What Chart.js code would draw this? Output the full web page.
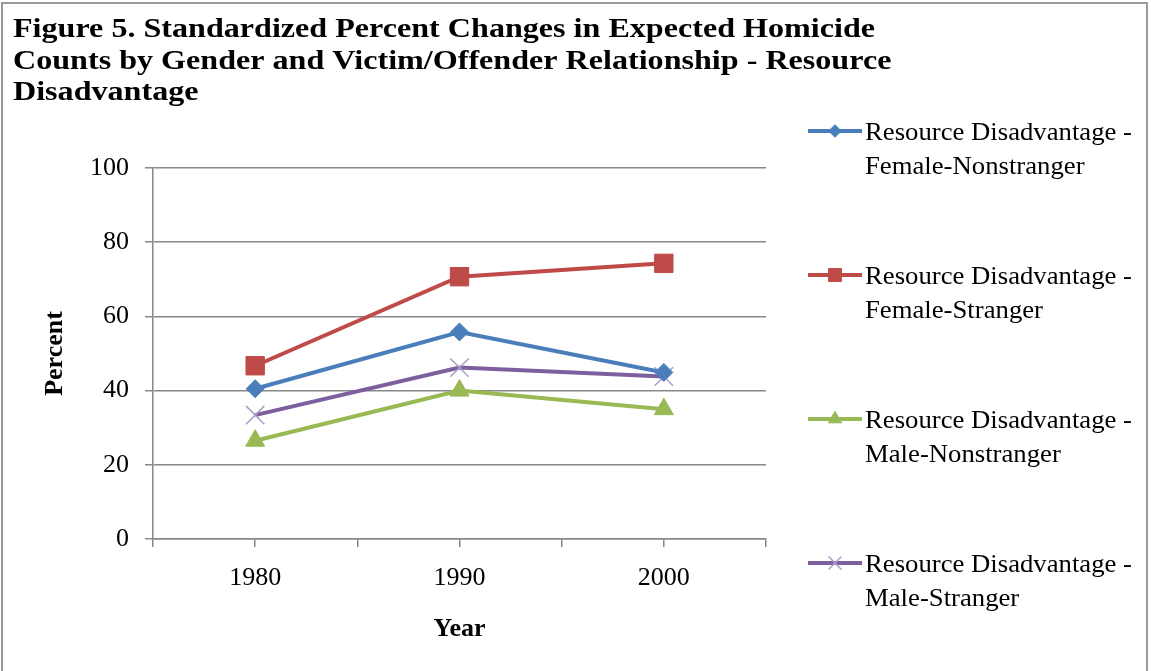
<!DOCTYPE html>
<html>
<head>
<meta charset="utf-8">
<script src="https://cdn.jsdelivr.net/npm/chart.js@4.4.0/dist/chart.umd.min.js"></script>
<style>
  html, body { margin: 0; padding: 0; background: #fff; }
  #wrap { position: relative; width: 1151px; height: 671px; overflow: hidden; }
  #chart { position: absolute; left: 0; top: 0; }
  #frame { position: absolute; left: 1px; top: 2px; width: 1147px; height: 700px; border: 2px solid #9a9a9a; box-sizing: border-box; pointer-events: none; }
</style>
</head>
<body>
<div id="wrap">
  <canvas id="chart" width="1151" height="671"></canvas>
  <div id="frame"></div>
</div>
<script>
// data
const years = [1980, 1990, 2000];
const femaleNonstranger = [40.5, 55.8, 44.9];
const femaleStranger = [46.7, 70.7, 74.3];
const maleNonstranger = [26.5, 40.0, 35.0];
const maleStranger = [33.4, 46.2, 43.8];

const seriesNames = [
  ["Resource Disadvantage -", "Female-Nonstranger"],
  ["Resource Disadvantage -", "Female-Stranger"],
  ["Resource Disadvantage -", "Male-Nonstranger"],
  ["Resource Disadvantage -", "Male-Stranger"]
];
const yTicks = [0, 20, 40, 60, 80, 100];
const titleLines = [
  "Figure 5. Standardized Percent Changes in Expected Homicide",
  "Counts by Gender and Victim/Offender Relationship - Resource",
  "Disadvantage"
];

const SERIF = "'Times New Roman', 'Liberation Serif', serif";
const gridColor = "#888888";

function toPoints(values) {
  return years.map((yr, i) => ({ x: yr, y: values[i] }));
}

const seriesStyle = [
  { color: "#4a7ebb", point: "rectRot", radius: 9, border: "#4a7ebb", bw: 1 },
  { color: "#be4b48", point: "rect", radius: 13, border: "#be4b48", bw: 1 },
  { color: "#98b954", point: "triangle", radius: 11, border: "#98b954", bw: 1 },
  { color: "#7d5fa0", point: "crossRot", radius: 13, border: "#ab9ccb", bw: 1.5 }
];

const allValues = [femaleNonstranger, femaleStranger, maleNonstranger, maleStranger];

const datasets = allValues.map((vals, i) => ({
  label: seriesNames[i].join(" "),
  data: toPoints(vals),
  borderColor: seriesStyle[i].color,
  backgroundColor: seriesStyle[i].color,
  borderWidth: 4,
  pointStyle: seriesStyle[i].point,
  pointRadius: seriesStyle[i].radius,
  pointBorderColor: seriesStyle[i].border,
  pointBackgroundColor: seriesStyle[i].color,
  pointBorderWidth: seriesStyle[i].bw,
  tension: 0
}));

// title + legend are drawn by hand (multi-line legend labels)
const titleAndLegend = {
  id: "titleAndLegend",
  afterDraw(chart) {
    const ctx = chart.ctx;
    ctx.save();
    ctx.fillStyle = "#000";
    ctx.textBaseline = "alphabetic";
    ctx.textAlign = "left";

    // title, condensed/stretched to the original width
    ctx.font = "bold 28px " + SERIF;
    const w1 = ctx.measureText(titleLines[0]).width;
    const tScale = 862 / w1;
    const titleBase = [37, 68.5, 100];
    titleLines.forEach((line, i) => {
      ctx.save();
      ctx.translate(13, titleBase[i]);
      ctx.scale(tScale, 1);
      ctx.fillText(line, 0, 0);
      ctx.restore();
    });

    // legend
    ctx.font = "25px " + SERIF;
    const lw = ctx.measureText(seriesNames[0][0]).width;
    const lScale = 267 / lw;
    chart.data.datasets.forEach((ds, i) => {
      const y = 131 + i * 144;
      const st = seriesStyle[i];
      ctx.strokeStyle = st.color;
      ctx.lineWidth = 4;
      ctx.beginPath();
      ctx.moveTo(808, y);
      ctx.lineTo(862, y);
      ctx.stroke();
      if (Chart.helpers && Chart.helpers.drawPoint) {
        ctx.fillStyle = st.color;
        ctx.strokeStyle = st.border;
        ctx.lineWidth = st.bw;
        Chart.helpers.drawPoint(ctx, { pointStyle: st.point, radius: st.radius * 0.7, rotation: 0, borderWidth: st.bw }, 835, y);
      }
      ctx.fillStyle = "#000";
      seriesNames[i].forEach((txt, k) => {
        ctx.save();
        ctx.translate(865, y + 9 + k * 34);
        ctx.scale(lScale, 1);
        ctx.fillText(txt, 0, 0);
        ctx.restore();
      });
    });
    ctx.restore();
  }
};

new Chart(document.getElementById("chart").getContext("2d"), {
  type: "line",
  data: { datasets },
  plugins: [titleAndLegend],
  options: {
    responsive: false,
    animation: false,
    layout: { padding: { top: 168, right: 385, left: 0, bottom: 0 } },
    plugins: {
      legend: { display: false },
      title: { display: false },
      tooltip: { enabled: false }
    },
    scales: {
      x: {
        type: "linear",
        min: 1975,
        max: 2005,
        afterFit: (s) => { s.height = 132; },
        afterBuildTicks: (s) => {
          s.ticks = [1975, 1980, 1985, 1990, 1995, 2000, 2005].map(v => ({ value: v }));
        },
        ticks: {
          autoSkip: false,
          maxRotation: 0,
          padding: 16,
          color: "#000",
          font: { family: SERIF, size: 26 },
          callback: (v) => years.includes(v) ? String(v) : ""
        },
        grid: { drawOnChartArea: false, drawTicks: true, tickLength: 8, color: gridColor, lineWidth: 1.5 },
        border: { display: true, color: gridColor, width: 1.5 },
        title: {
          display: true,
          text: "Year",
          color: "#000",
          font: { family: SERIF, size: 26, weight: "bold" },
          padding: { top: 0, bottom: 26 }
        }
      },
      y: {
        min: 0,
        max: 100,
        afterFit: (s) => { s.width = 153; },
        afterBuildTicks: (s) => { s.ticks = yTicks.map(v => ({ value: v })); },
        ticks: {
          padding: 16,
          color: "#000",
          font: { family: SERIF, size: 26 }
        },
        grid: { color: gridColor, tickLength: 8, lineWidth: 1.5 },
        border: { display: true, color: gridColor, width: 1.5 },
        title: {
          display: true,
          text: "Percent",
          color: "#000",
          font: { family: SERIF, size: 26, weight: "bold" },
          padding: { top: 40, bottom: 0 }
        }
      }
    }
  }
});
</script>
</body>
</html>
